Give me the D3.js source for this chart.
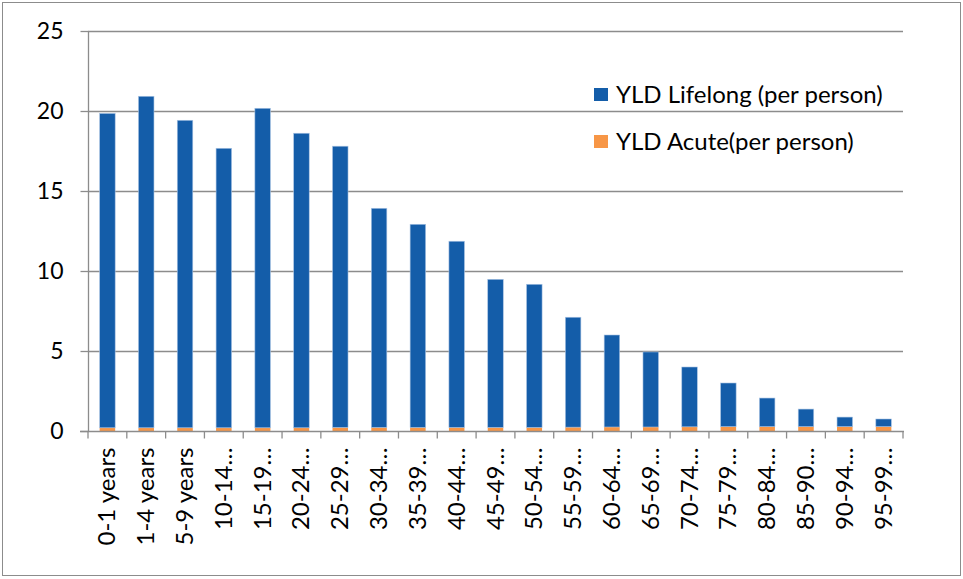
<!DOCTYPE html>
<html><head><meta charset="utf-8">
<script src="https://cdnjs.cloudflare.com/ajax/libs/d3/7.8.5/d3.min.js"></script>
<style>body{margin:0;background:#fff}svg{display:block}text{font-family:Lato,"Open Sans",sans-serif;fill:#000}</style>
</head><body><svg id="c" width="963" height="579"></svg>
<script>
const categories = ["0-1 years","1-4 years","5-9 years","10-14…","15-19…","20-24…","25-29…","30-34…","35-39…","40-44…","45-49…","50-54…","55-59…","60-64…","65-69…","70-74…","75-79…","80-84…","85-90…","90-94…","95-99…"];
const acute = [0.2,0.2,0.2,0.2,0.2,0.2,0.22,0.22,0.22,0.22,0.22,0.22,0.24,0.25,0.25,0.26,0.27,0.27,0.27,0.27,0.27];
const lifelong = [19.65,20.72,19.22,17.47,19.97,18.41,17.58,13.7,12.7,11.64,9.26,8.95,6.87,5.75,4.69,3.74,2.73,1.79,1.1,0.6,0.48];
const yTicks = [0,5,10,15,20,25];
const seriesNames = ["YLD Lifelong (per person)","YLD Acute(per person)"];
const colors = ["#145DA9","#F79646"];

const svg = d3.select("#c");
svg.append("rect").attr("x",2.5).attr("y",2.5).attr("width",958).attr("height",573).attr("fill","#fff").attr("stroke","#8c8c8c");
const L=88,R=903,T=31,B=431;
const x = d3.scaleBand().domain(categories).range([L,R]).paddingInner(0.6).paddingOuter(0.3);
const xb = d3.scaleBand().domain(categories).range([L,R]);
const y = d3.scaleLinear().domain([0,25]).range([B,T]);

svg.append("g").selectAll("line").data(yTicks.filter(d=>d>0)).join("line")
  .attr("x1",L).attr("x2",R).attr("y1",d=>y(d)+0.5).attr("y2",d=>y(d)+0.5)
  .attr("stroke","#8c8c8c").attr("stroke-width",1.3);

const data = categories.map((c,i)=>({c,a:acute[i],l:lifelong[i]}));
const g = svg.append("g");
g.selectAll(".a").data(data).join("rect").attr("x",d=>x(d.c)).attr("width",x.bandwidth())
  .attr("y",d=>y(d.a)).attr("height",d=>y(0)-y(d.a)).attr("fill",colors[1]);
g.selectAll(".l").data(data).join("rect").attr("x",d=>x(d.c)).attr("width",x.bandwidth())
  .attr("y",d=>y(d.a+d.l)).attr("height",d=>y(d.a)-y(d.a+d.l)).attr("fill",colors[0])
  .attr("stroke","#a9c3e3").attr("stroke-width",0.6);

const ya = svg.append("g").attr("transform",`translate(${L+0.5},0)`)
  .call(d3.axisLeft(y).tickValues(yTicks).tickSize(8).tickPadding(17).tickFormat(d3.format("d")));
ya.select(".domain").attr("stroke","#8c8c8c").attr("stroke-width",1.3).attr("d",`M0,${T}V${B}`);
ya.selectAll(".tick line").attr("stroke","#8c8c8c").attr("stroke-width",1.3);
ya.selectAll(".tick text").style("font-size","23px").attr("fill","#000");

const xa = svg.append("g").attr("transform",`translate(0,${B+0.5})`);
xa.append("line").attr("x1",L-8).attr("x2",R+1).attr("stroke","#8c8c8c").attr("stroke-width",1.3);
xa.selectAll(".tk").data(categories.concat(["_end"])).join("line")
  .attr("x1",(d,i)=>L+i*xb.bandwidth()).attr("x2",(d,i)=>L+i*xb.bandwidth())
  .attr("y1",0).attr("y2",7).attr("stroke","#8c8c8c").attr("stroke-width",1.3);
xa.selectAll(".lb").data(categories).join("text")
  .attr("transform",d=>`translate(${xb(d)+xb.bandwidth()/2+8},16) rotate(-90)`)
  .attr("text-anchor","end").style("font-size","24px").text(d=>d);

const lg = svg.append("g");
seriesNames.forEach((n,i)=>{
  const yy = 88+i*47;
  lg.append("rect").attr("x",594).attr("y",yy).attr("width",14).attr("height",13).attr("fill",colors[i]);
  lg.append("text").attr("x",616).attr("y",yy+15).style("font-size","24px").text(n);
});
</script></body></html>
